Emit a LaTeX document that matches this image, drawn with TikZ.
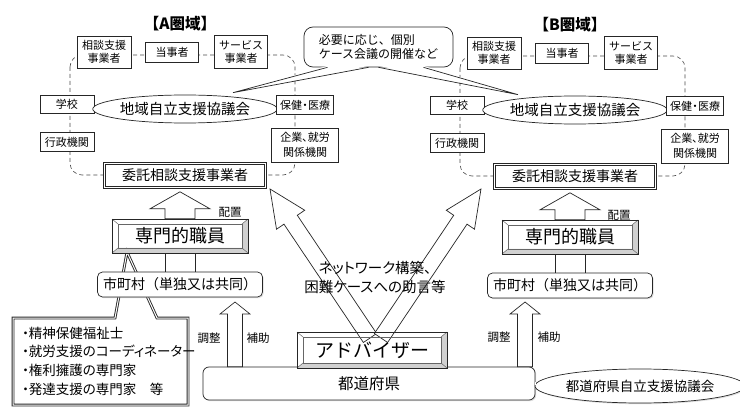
\documentclass[tikz,border=0pt]{standalone}
\usepackage{fontspec}
\setmainfont{Noto Sans CJK JP}
\newfontfamily\pfont{Noto Sans CJK JP}[RawFeature=+palt]
\usetikzlibrary{calc,shapes.geometric,shadows}

\tikzset{
  ln/.style={draw=black!85, line width=0.7pt},
  sbox/.style={ln, fill=white, inner sep=1pt, align=center, font=\fontsize{11}{13.5}\selectfont},
  dloop/.style={draw=black!70, dash pattern=on 4pt off 3pt, line width=0.6pt, rounded corners=12pt},
  kyo/.style={ln, ellipse, fill=white, inner sep=0pt, font=\fontsize{14.5}{16}\selectfont},
  itakubox/.style={ln, fill=white, font=\fontsize{14}{16}\selectfont, inner sep=0pt},
  bevelbox/.style={ln, fill=white, inner sep=0pt},
  rbox/.style={ln, fill=white, rounded corners=5pt, inner sep=0pt},
  harrow/.style={ln, fill=white, line join=miter},
  lbl/.style={font=\fontsize{11.5}{13}\selectfont, inner sep=0pt},
  shd/.style={drop shadow={shadow xshift=1.2pt, shadow yshift=-1.2pt, fill=black!25}},
}

% hollow arrow: start, tip, shaft half width, head half width, head length
\newcommand{\hollowarrow}[5]{%
  \coordinate (ha-h) at ($(#2)!#5!(#1)$);
  \draw[harrow] ($(#1)!#3!90:(#2)$) -- ($(ha-h)!#3!90:(#2)$) -- ($(ha-h)!#4!90:(#2)$) -- (#2)
    -- ($(ha-h)!#4!-90:(#2)$) -- ($(ha-h)!#3!-90:(#2)$) -- ($(#1)!#3!-90:(#2)$) -- cycle;}

% bevel frame around a rectangular node (drawn before the node)
\newcommand{\bevelframe}[5]{% name, center x, center y, half width, half height (inset 6/5)
  \fill[black!18] (#2+#4,#3-#5) -- (#2+#4-6,#3-#5+5) -- (#2+#4-6,#3+#5-5) -- (#2-#4+6,#3+#5-5)
    -- (#2-#4,#3+#5) -- (#2+#4,#3+#5) -- cycle;
  \draw[black!60, line width=0.5pt] (#2-#4+6,#3-#5+5) rectangle (#2+#4-6,#3+#5-5);
  \draw[black!60, line width=0.5pt] (#2-#4,#3-#5) -- (#2-#4+6,#3-#5+5) (#2+#4,#3-#5) -- (#2+#4-6,#3-#5+5)
    (#2-#4,#3+#5) -- (#2-#4+6,#3+#5-5) (#2+#4,#3+#5) -- (#2+#4-6,#3+#5-5);
  \draw[ln] (#2-#4,#3-#5) rectangle (#2+#4,#3+#5);}

% double frame on a rectangular node
\newcommand{\doubleframe}[1]{%
  \draw[black!85, line width=0.5pt] ($(#1.north west)+(2.5,2.5)$) rectangle ($(#1.south east)+(-2.5,-2.5)$);}

\newcommand{\region}[2]{%
  \draw[dloop] (70,55) rectangle (295,175);
  \node[font=\fontsize{15.5}{17}\selectfont\bfseries] (#1-title) at (180,24) {#2};
  \node[sbox, minimum width=54pt, minimum height=32pt] (#1-soudan) at (104,52) {相談支援\\事業者};
  \node[sbox, minimum width=53pt, minimum height=20pt] (#1-toji) at (172,52) {当事者};
  \node[sbox, minimum width=53pt, minimum height=33pt] (#1-serv) at (241,52) {サービス\\事業者};
  \node[sbox, minimum width=54pt, minimum height=18pt] (#1-gakko) at (67,104) {学校};
  \node[sbox, minimum width=54pt, minimum height=19pt] (#1-gyosei) at (67,142) {行政機関};
  \node[kyo, minimum width=173pt, minimum height=28pt] (#1-kyo) at (185,109) {地域自立支援協議会};
  \node[sbox, minimum width=57pt, minimum height=19pt] (#1-hoken) at (305,105) {保健{\kern-2.5pt}・{\kern-2.5pt}医療};
  \node[sbox, minimum width=67pt, minimum height=34pt, font=\pfont\fontsize{11}{15}\selectfont] (#1-kigyo) at (305,145) {企業、就労\\関係機関};
  \node[itakubox, minimum width=163pt, minimum height=26pt] (#1-itaku) at (185,175) {委託相談支援事業者};
  \doubleframe{#1-itaku}
}

\begin{document}
\begin{tikzpicture}[x=1pt,y=-1pt]
\useasboundingbox (0,0) rectangle (740,409);
\fill[white] (0,0) rectangle (740,409);

% two regions
\begin{scope}\region{A}{【A圏域】}\end{scope}
\begin{scope}[shift={(390,1)}]\region{B}{【B圏域】}\end{scope}

% top callout
\node[ln, fill=white, rounded corners=9pt, minimum width=149pt, minimum height=40pt, align=left,
      inner sep=0pt, font=\fontsize{12}{13.5}\selectfont] (call) at (378.5,47) {必要に応じ、個別\\ケース会議の開催など};
\coordinate (cl1) at ($(call.south)+(-51,0)$);
\coordinate (cl2) at ($(call.south)+(-10,0)$);
\coordinate (cr1) at ($(call.south)+(0,0)$);
\coordinate (cr2) at ($(call.south)+(45,0)$);
\coordinate (cl-tip) at ($(A-kyo.north)+(48,-2)$);
\coordinate (cr-tip) at ($(B-kyo.north)+(-57,-1)$);
\fill[white] ($(cl1)+(0,-1.5)$) -- (cl-tip) -- ($(cl2)+(0,-1.5)$) -- cycle;
\fill[white] ($(cr1)+(0,-1.5)$) -- (cr-tip) -- ($(cr2)+(0,-1.5)$) -- cycle;
\draw[ln] (cl1) -- (cl-tip) -- (cl2);
\draw[ln] (cr1) -- (cr-tip) -- (cr2);

% specialist callout
\draw[draw=black!85, line width=0.9pt, double, double distance=1pt, fill=white]
  (13,318) -- (115,318) -- (127,252) -- (157,318) -- (188,318) -- (188,405) -- (13,405) -- cycle;
\node[anchor=west, align=left, inner sep=0pt, font=\pfont\fontsize{13.5}{18.7}\selectfont] (spec) at (22,361)
  {・精神保健福祉士\\・就労支援のコーディネーター\\・権利擁護の専門家\\・発達支援の専門家　等};

% municipalities and specialist staff (A)
\node[rbox, shd, minimum width=165pt, minimum height=25pt, font=\fontsize{14}{16}\selectfont]
  (A-shichoson) at (180,284.5) {市町村（単独又は共同）};
\bevelframe{A-senmon}{180}{236}{68}{17}
\node[inner sep=0pt, minimum width=136pt, minimum height=34pt, font=\fontsize{18}{20}\selectfont]
  (A-senmon) at (180,236) {専門的職員};
\draw[ln] (A-senmon.south) ++(-15,0) coordinate (A-l1) -- (A-l1 |- A-shichoson.north);
\draw[ln] (A-senmon.south) ++(15,0) coordinate (A-l2) -- (A-l2 |- A-shichoson.north);
\coordinate (A-hs) at (A-senmon.north);
\coordinate (A-ht) at ($(A-senmon.north)+(0,-27)$);
\hollowarrow{A-hs}{A-ht}{15pt}{30pt}{17pt}

% municipalities and specialist staff (B)
\node[rbox, shd, minimum width=165pt, minimum height=25pt, font=\fontsize{14}{16}\selectfont]
  (B-shichoson) at (570,285.5) {市町村（単独又は共同）};
\bevelframe{B-senmon}{570}{237}{68}{17}
\node[inner sep=0pt, minimum width=136pt, minimum height=34pt, font=\fontsize{18}{20}\selectfont]
  (B-senmon) at (570,237) {専門的職員};
\draw[ln] (B-senmon.south) ++(-15,0) coordinate (B-l1) -- (B-l1 |- B-shichoson.north);
\draw[ln] (B-senmon.south) ++(15,0) coordinate (B-l2) -- (B-l2 |- B-shichoson.north);
\coordinate (B-hs) at (B-senmon.north);
\coordinate (B-ht) at ($(B-senmon.north)+(0,-27)$);
\hollowarrow{B-hs}{B-ht}{15pt}{30pt}{17pt}

\node[lbl] (A-haichi) at (230,212) {配置};
\node[lbl] (B-haichi) at (619,215) {配置};

% prefecture
\node[rbox, shd, rounded corners=6pt, minimum width=332pt, minimum height=33pt, font=\fontsize{15.5}{17}\selectfont]
  (pref) at (369,383.5) {都道府県};
\coordinate (A-cs) at (235,0 |- pref.north);
\coordinate (A-ct) at (235,302);
\hollowarrow{A-cs}{A-ct}{7.5pt}{15pt}{12pt}
\coordinate (B-cs) at (525,0 |- pref.north);
\coordinate (B-ct) at (525,302);
\hollowarrow{B-cs}{B-ct}{7.5pt}{15pt}{12pt}
\node[lbl] (A-chosei) at (209,338) {調整};
\node[lbl] (A-hojo) at (258,338) {補助};
\node[lbl] (B-chosei) at (499,337) {調整};
\node[lbl] (B-hojo) at (549,337) {補助};

% advisor arrows
\coordinate (dl-s) at (370,338);
\coordinate (dl-t) at (270,189);
\hollowarrow{dl-s}{dl-t}{8pt}{17pt}{37pt}
\coordinate (dr-s) at (381,338);
\coordinate (dr-t) at (481,189);
\hollowarrow{dr-s}{dr-t}{8pt}{17pt}{37pt}

\bevelframe{adv}{372}{350}{75}{18}
\node[inner sep=0pt, minimum width=150pt, minimum height=36pt, font=\fontsize{19}{21}\selectfont] (adv) at (372,350) {アドバイザー};

\node[font=\pfont\fontsize{14.5}{19}\selectfont, align=center, inner sep=0pt] (net) at (375,277) {ネットワーク構築、\\困難ケースへの助言等};

% prefectural council
\node[kyo, shd, minimum width=176pt, minimum height=34pt, font=\fontsize{13.5}{15}\selectfont] (pkyo) at (640,386) {都道府県自立支援協議会};
\draw[draw=black!85, line width=0.6pt, double, double distance=2.5pt] (pref.east) -- (pref.east -| pkyo.west);
\end{tikzpicture}
\end{document}
